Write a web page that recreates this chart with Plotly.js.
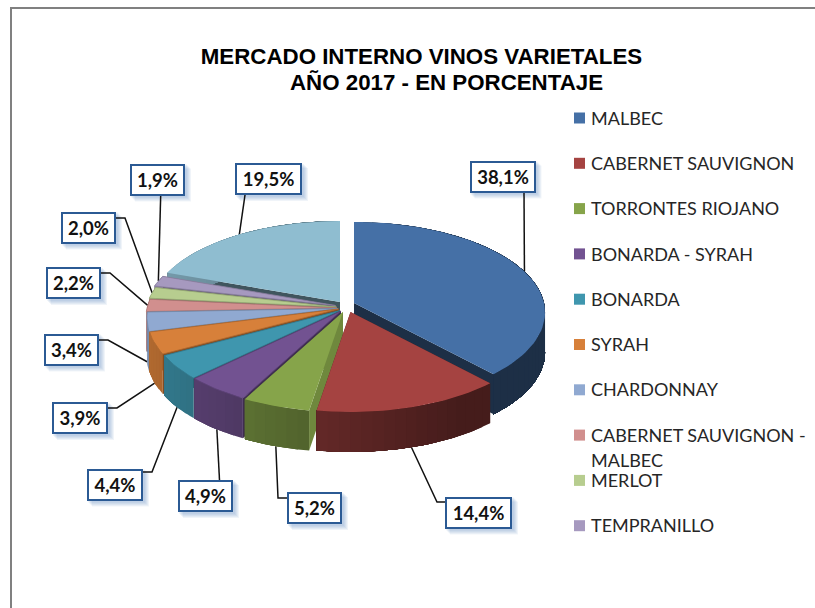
<!DOCTYPE html>
<html>
<head>
<meta charset="utf-8">
<script src="https://cdn.plot.ly/plotly-3.0.1.min.js"></script>
<style>html,body{margin:0;padding:0;background:#fff;overflow:hidden}#chart{width:815px;height:608px}</style>
</head>
<body>
<div id="chart"></div>
<script>
// ---- data ----
var legendCategories = ["MALBEC","CABERNET SAUVIGNON","TORRONTES RIOJANO","BONARDA - SYRAH","BONARDA","SYRAH","CHARDONNAY","CABERNET SAUVIGNON -<br>MALBEC","MERLOT","TEMPRANILLO"];
var values = [38.1,14.4,5.2,4.9,4.4,3.9,3.4,2.2,2.0,1.9,19.5];
var sliceColors = ["#4570a6","#a54341","#86a44a","#725291","#3f96ae","#d7803a","#90a9d1","#d18f8e","#b7cd8f","#a699bf","#8fbdd0"];

// ---- drawing style: projected pie geometry (pixels) ----
var titleLines = ["MERCADO INTERNO VINOS VARIETALES","AÑO 2017 - EN PORCENTAJE"];
var R = 190, Rk = 89.5, persp = 0.105, depth = 40;
var apexX = [354,350.5,343,341,340,338.5,338,337,336.5,335.5,340];
var apexY = [303,312,312,311,310.5,309,308.5,308,307,305.5,302];
var cutShade = [0.42,0.5,0.83,0.55,0.55,0.6,0.6,0.6,0.6,0.6,0.45];
var topEdge = [0,0,0,1,1,1,1,1,1,1,0];
var leaderOnWall = [0,1,1,1,1,1,1,0,0,0,0];
var boxCx = [502.5,478.5,314.5,205.5,115,80,71.5,73.5,88.5,157.5,268.5];
var boxCy = [176.5,512.5,508,496,484.5,418,349.5,283,227.5,179.5,179];
var boxW = [66,67,55,55,56,56,55,55,55,55,67];
var boxH = 32;
var leaderElbows = [
  [[524,190]],
  [[437,502],[445,502]],
  [[278,498],[287,498]],
  [[219.5,480]],
  [[152,472],[143,472]],
  [[117,408],[108,408]],
  [[108,340],[99,340]],
  [[110,273],[101,273]],
  [[125,218],[116,218]],
  [[160.7,195]],
  [[245,195]]
];
var legendX = 579.5, legendTextX = 591, legendY0 = 118, legendStep = 45.3, legendLineStep = 25;

// ---- helpers ----
var total = values.reduce(function(a,b){return a+b;},0);
var edges = [0];
values.forEach(function(v,i){edges.push(edges[i]+v/total*360);});
function project(i,deg,r){
  var a = deg*Math.PI/180, u = r*Math.sin(a), v = r*Math.cos(a), s = 1/(1+persp*v);
  return [apexX[i]+R*u*s, apexY[i]-Rk*v*s];
}
function rgb(hex){return [1,3,5].map(function(k){return parseInt(hex.substr(k,2),16);});}
function shade(hex,f){var c=rgb(hex);return "rgb("+c.map(function(x){return Math.round(x*f);}).join(",")+")";}
function wallFactor(deg){
  var u = Math.sin(deg*Math.PI/180);
  return Math.max(0.42,Math.min(0.84,0.56-0.27*u));
}
function poly(pts,fill,line){
  var xs = pts.map(function(p){return p[0];}), ys = pts.map(function(p){return p[1];});
  xs.push(xs[0]); ys.push(ys[0]);
  return {type:"scatter",mode:"lines",x:xs,y:ys,fill:"toself",fillcolor:fill,
    line:line?{color:line,width:0.8}:{color:fill,width:0},hoverinfo:"skip",showlegend:false};
}

var traces = [];

// leader lines (drawn behind the pie)
values.forEach(function(v,i){
  var mid = (edges[i]+edges[i+1])/2, p = project(i,mid,1);
  var pts = [[p[0],p[1]+(leaderOnWall[i]?depth:0)]].concat(leaderElbows[i]);
  traces.push({type:"scatter",mode:"lines",x:pts.map(function(q){return q[0];}),y:pts.map(function(q){return q[1];}),
    line:{color:"#111111",width:1.5},hoverinfo:"skip",showlegend:false});
});

// pie slices, back to front
var order = values.map(function(v,i){return i;}).sort(function(a,b){
  return Math.cos((edges[b]+edges[b+1])*Math.PI/360)-Math.cos((edges[a]+edges[a+1])*Math.PI/360)<0?-1:1;
});
order.forEach(function(i){
  var a0 = edges[i], a1 = edges[i+1], col = sliceColors[i];
  var apex = project(i,0,0);
  [a0,a1].forEach(function(a){
    var o = project(i,a,1);
    traces.push(poly([apex,o,[o[0],o[1]+depth],[apex[0],apex[1]+depth]],shade(col,cutShade[i])));
  });
  // outer wall: each band runs to the end of the slice, so later bands overlap earlier ones without seams
  var n = Math.max(1,Math.round((a1-a0)/3));
  for(var k=0;k<n;k++){
    var b0 = a0+(a1-a0)*k/n, bm = a0+(a1-a0)*(k+0.5)/n, pts = [], m2 = Math.max(1,n-k)*2, q;
    for(q=0;q<=m2;q++){pts.push(project(i,b0+(a1-b0)*q/m2,1));}
    for(q=m2;q>=0;q--){var w = project(i,b0+(a1-b0)*q/m2,1);pts.push([w[0],w[1]+depth]);}
    traces.push(poly(pts,shade(col,wallFactor(bm))));
  }
  var top = [apex], m = Math.max(4,Math.round((a1-a0)/2));
  for(var j=0;j<=m;j++){top.push(project(i,a0+(a1-a0)*j/m,1));}
  traces.push(poly(top,col,topEdge[i]?shade(col,0.82):null));
});

// legend
var legendYs = legendCategories.map(function(c,i){return legendY0+i*legendStep;});
traces.push({type:"scatter",mode:"markers",x:legendCategories.map(function(){return legendX;}),y:legendYs,
  marker:{symbol:"square",size:11,color:sliceColors.slice(0,legendCategories.length)},
  hoverinfo:"skip",showlegend:false});

var annotations = [], shapes = [];

// frame
shapes.push({type:"path",path:"M 11 620 L 11 8 L 830 8",xref:"x",yref:"y",line:{color:"#808080",width:2},layer:"below"});

values.forEach(function(v,i){
  var w = boxW[i], x = boxCx[i], y = boxCy[i];
  [6,5,4,3,2].forEach(function(o){
    shapes.push({type:"rect",xref:"x",yref:"y",x0:x-w/2+o-1,x1:x+w/2+o,y0:y-boxH/2+o-1,y1:y+boxH/2+o,
      fillcolor:"rgba(90,130,190,0.09)",line:{width:0},layer:"below"});
  });
  annotations.push({xref:"x",yref:"y",x:x,y:y,xanchor:"center",yanchor:"middle",showarrow:false,
    text:v.toFixed(1).replace(".",",")+"%",width:w-4,height:boxH-4,align:"center",valign:"middle",
    bgcolor:"#ffffff",bordercolor:"#2b5a94",borderwidth:2,borderpad:0,
    font:{family:"Lato, sans-serif",size:18.5,color:"#111111",weight:700}});
});

legendCategories.forEach(function(c,i){
  c.split("<br>").forEach(function(line,k){
    annotations.push({xref:"x",yref:"y",x:legendTextX,y:legendYs[i]-0.4+k*legendLineStep,xanchor:"left",yanchor:"middle",showarrow:false,
      text:line,align:"left",borderpad:0,borderwidth:0,
      font:{family:"Lato, sans-serif",size:18,color:"#262626"}});
  });
});

// second title line sits right of the first, as in the picture
annotations.push({xref:"x",yref:"y",x:446,y:82,xanchor:"center",yanchor:"middle",showarrow:false,text:titleLines[1],
  borderpad:0,borderwidth:0,font:{family:"Liberation Sans, Arial, sans-serif",size:22.3,color:"#000000",weight:700}});

var layout = {
  width:815,height:608,margin:{l:0,r:0,t:0,b:0},paper_bgcolor:"#ffffff",plot_bgcolor:"#ffffff",showlegend:false,
  title:{text:titleLines[0],x:421.5/815,xanchor:"center",xref:"paper",y:1-56/608,yanchor:"middle",
    font:{family:"Liberation Sans, Arial, sans-serif",size:22.3,color:"#000000",weight:700}},
  xaxis:{range:[0,815],visible:false,fixedrange:true},
  yaxis:{range:[608,0],visible:false,fixedrange:true},
  shapes:shapes,annotations:annotations
};
Plotly.newPlot("chart",traces,layout,{displayModeBar:false,staticPlot:true});
</script>
</body>
</html>
